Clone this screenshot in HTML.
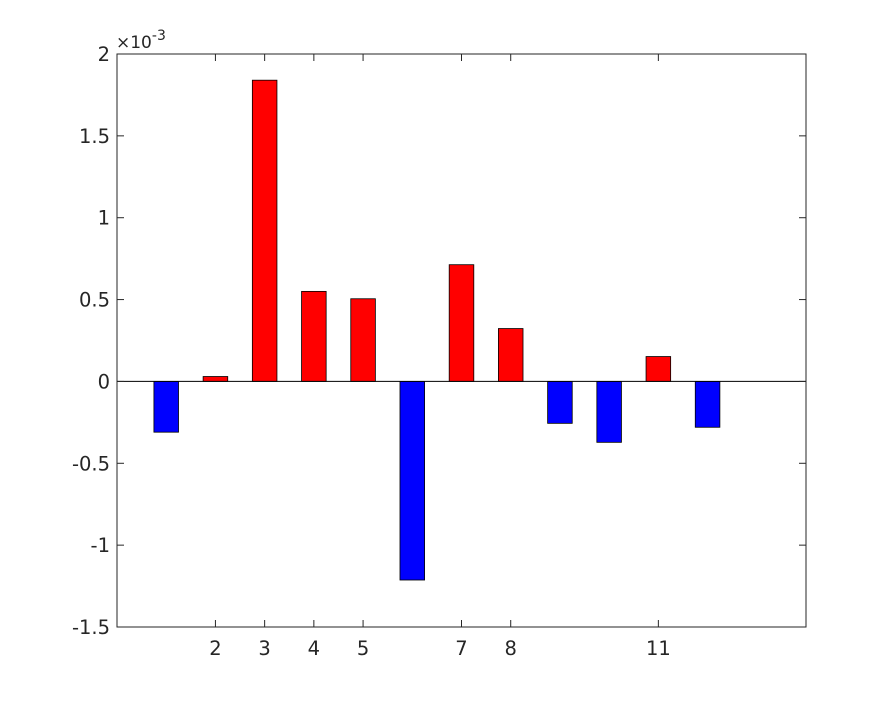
<!DOCTYPE html>
<html><head><meta charset="utf-8"><style>
html,body{margin:0;padding:0;background:#fff;}
svg{display:block;font-family:"DejaVu Sans","Liberation Sans",sans-serif;}
</style></head><body>
<svg id="chart" width="891" height="703"></svg>
<script>
const categories=[1,2,3,4,5,6,7,8,9,10,11,12];
const values=[-0.31,0.03,1.84,0.55,0.505,-1.213,0.713,0.323,-0.256,-0.372,0.152,-0.28];
const xTickLabels=[2,3,4,5,7,8,11];
const yTicks=[-1.5,-1,-0.5,0,0.5,1,1.5,2];
const yTickLabels=["-1.5","-1","-0.5","0","0.5","1","1.5","2"];
const L=117,R=806,T=54,B=627;
const xmin=0,xmax=14,ymin=-1.5,ymax=2;
const xs=v=>L+(v-xmin)/(xmax-xmin)*(R-L);
const ys=v=>B-(v-ymin)/(ymax-ymin)*(B-T);
const svg=document.getElementById('chart');
const NS='http://www.w3.org/2000/svg';
function mk(t,a){const e=document.createElementNS(NS,t);for(const k in a)e.setAttribute(k,a[k]);svg.appendChild(e);return e;}
const bg=mk('rect',{x:L,y:T,width:R-L,height:B-T,fill:'#fff'});


categories.forEach((c,i)=>{
  const v=values[i];
  const x0=xs(c-0.25),x1=xs(c+0.25);
  const y0=ys(Math.max(v,0)),y1=ys(Math.min(v,0));
  const r=mk('rect',{x:x0,y:y0,width:x1-x0,height:y1-y0,fill:v>=0?'#ff0000':'#0000ff',stroke:'#000','stroke-width':0.8});
  
  
});
const zl=mk('line',{x1:L,x2:R,y1:ys(0),y2:ys(0),stroke:'#000','stroke-width':1});


const frame=mk('rect',{x:L,y:T,width:R-L,height:B-T,fill:'none',stroke:'#262626','stroke-width':1});


yTicks.forEach((v,i)=>{
  const y=ys(v);
  mk('line',{x1:L,x2:L+7,y1:y,y2:y,stroke:'#262626'});
  mk('line',{x1:R,x2:R-7,y1:y,y2:y,stroke:'#262626'});
  const t=mk('text',{x:L-7,y:y+7,'text-anchor':'end','font-size':19.5,fill:'#262626'});
  t.textContent=yTickLabels[i];
  
  
});
xTickLabels.forEach(v=>{
  const x=xs(v);
  mk('line',{x1:x,x2:x,y1:B,y2:B-7,stroke:'#262626'});
  mk('line',{x1:x,x2:x,y1:T,y2:T+7,stroke:'#262626'});
  const t=mk('text',{x:x,y:B+28,'text-anchor':'middle','font-size':19.5,fill:'#262626'});
  t.textContent=v;
  
  
});
const ex=mk('text',{x:116,y:48,'font-size':17,fill:'#262626'});
ex.innerHTML='×10<tspan dy="-8" font-size="14">-3</tspan>';


</script>
</body></html>
